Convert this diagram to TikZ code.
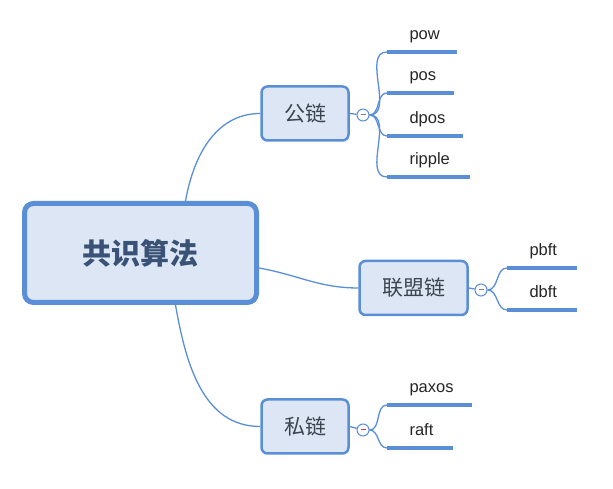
\documentclass[tikz,border=0pt]{standalone}
\usepackage{fontspec}
\setmainfont{Liberation Sans}
\newfontfamily\cjk{Noto Sans CJK SC}
\usetikzlibrary{positioning}

\definecolor{mapblue}{HTML}{5A8FD8}
\definecolor{mapfill}{HTML}{DCE6F4}
\definecolor{roottext}{HTML}{3A5276}
\definecolor{subtext}{HTML}{3C4450}

\tikzset{
  rootbox/.style={draw=mapblue, line width=5pt, fill=mapfill, rounded corners=9pt,
    minimum width=232pt, minimum height=99pt, text=roottext,
    font=\cjk\bfseries\fontsize{29}{29}\selectfont},
  subbox/.style={draw=mapblue, line width=2.5pt, fill=mapfill, rounded corners=6pt,
    minimum height=54pt, text=subtext, font=\cjk\fontsize{21}{21}\selectfont},
  fold/.style={circle, draw=mapblue, line width=1pt, fill=white,
    minimum size=12pt, inner sep=0pt},
  leaf/.style={anchor=base west, text=black!85, font=\fontsize{16.5}{16.5}\selectfont},
  branch/.style={draw=mapblue, line width=1.3pt},
  under/.style={draw=mapblue, line width=4pt},
}

\begin{document}
\begin{tikzpicture}[x=1pt,y=1pt]
    \fill[white] (0,0) rectangle (613,489);
    \useasboundingbox (0,0) rectangle (613,489);

    % main topic and the three chains
    \node[rootbox] (root) at (140.5,236) {共识算法};
    \node[subbox, minimum width=87pt] (pub) at (305,375.5) {公链};
    \node[subbox, minimum width=108pt] (cons) at (413.5,201) {联盟链};
    \node[subbox, minimum width=87pt] (priv) at (305,62.5) {私链};

    \draw[branch] ([xshift=45pt]root.north) to[out=80,in=180] (pub.west);
    \draw[branch] ([yshift=-15pt]root.east) to[out=-10,in=180] (cons.west);
    \draw[branch] ([xshift=35pt]root.south) to[out=-80,in=180] (priv.west);

    % fold markers
    \node[fold] (pubc) at (363,374) {\color{gray}\rule[0.3ex]{5pt}{0.8pt}};
    \node[fold] (consc) at (481,199) {\color{gray}\rule[0.3ex]{5pt}{0.8pt}};
    \node[fold] (privc) at (363,59) {\color{red!50!gray}\rule[0.3ex]{5pt}{0.8pt}};
    \draw[branch] (pub.east) -- (pubc);
    \draw[branch] (cons.east) -- (consc);
    \draw[branch] (priv.east) -- (privc);

    % leaves
    \foreach \leaf/\hub/\x/\y/\len in {pow/pubc/387/437/70, pos/pubc/387/396/67,
        dpos/pubc/387/353/76, ripple/pubc/387/312/83,
        pbft/consc/507/221/70, dbft/consc/507/179/70,
        paxos/privc/387/84/85, raft/privc/387/41/66} {
        \coordinate (\leaf-a) at (\x,\y);
        \coordinate (\leaf-b) at (\x+\len,\y);
        \draw[under] (\leaf-a) -- (\leaf-b);
        \draw[branch] (\hub.east) to[out=0,in=180] (\leaf-a);
        \node[leaf] (\leaf) at (\x+19,\y+12) {\leaf};
    }
\end{tikzpicture}
\end{document}
